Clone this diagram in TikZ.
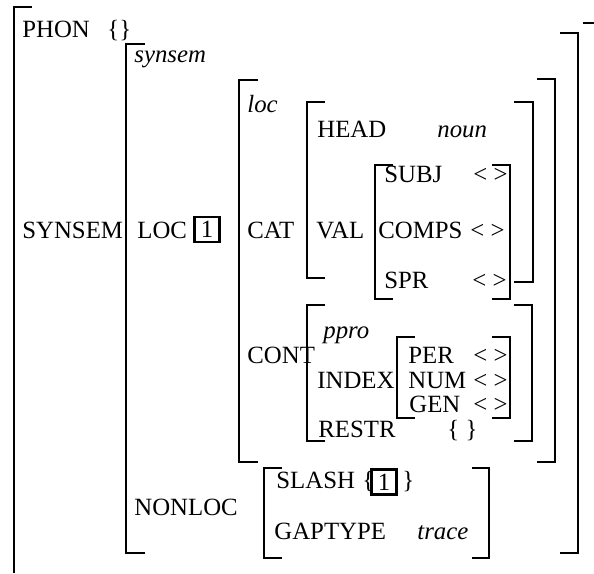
\documentclass[tikz,border=0pt]{standalone}
\usepackage{fontspec}
\setmainfont{Liberation Serif}

\begin{document}
\begin{tikzpicture}[x=0.5pt,y=-0.5pt,
  txt/.style={anchor=base west, inner sep=0pt, font=\fontsize{12.4}{15}\selectfont},
  tagbox/.style={draw, line width=1.1pt, minimum size=12.5pt, inner sep=0pt, font=\fontsize{12.4}{15}\selectfont},
  brk/.style={line width=1pt}]
\useasboundingbox (0,0) rectangle (594,573);

\node[txt] (phon) at (22,37) {PHON};
\node[txt] (phonval) at (107,37) {\{\}};
\node[txt] (synsemtype) at (134,62) {\textit{synsem}};
\node[txt] (synsem) at (22,238) {SYNSEM};
\node[txt] (loc) at (137,238) {LOC};
\node[tagbox] (loctag) at (207,229.5) {1};
\node[txt] (loctype) at (247,112) {\textit{loc}};
\node[txt] (cat) at (247,238) {CAT};
\node[txt] (head) at (317,137) {HEAD};
\node[txt] (noun) at (437,137) {\textit{noun}};
\node[txt] (val) at (316,238) {VAL};
\node[txt] (subj) at (384,182) {SUBJ};
\node[txt] (subjval) at (473,182) {< >};
\node[txt] (comps) at (378,238) {COMPS};
\node[txt] (compsval) at (470,238) {< >};
\node[txt] (spr) at (384,288) {SPR};
\node[txt] (sprval) at (472,288) {< >};
\node[txt] (cont) at (247,363) {CONT};
\node[txt] (ppro) at (323,338) {\textit{ppro}};
\node[txt] (index) at (317,388) {INDEX};
\node[txt] (per) at (408,363) {PER};
\node[txt] (perval) at (473,363) {< >};
\node[txt] (num) at (408,388) {NUM};
\node[txt] (numval) at (473,388) {< >};
\node[txt] (gen) at (409,412) {GEN};
\node[txt] (genval) at (473,412) {< >};
\node[txt] (restr) at (318,437) {RESTR};
\node[txt] (restrval) at (447,437) {\{ \}};
\node[txt] (nonloc) at (134,515) {NONLOC};
\node[txt] (slash) at (276,488) {SLASH};
\node[txt] (slashl) at (362,488) {\{};
\node[tagbox] (slashtag) at (384,482) {1};
\node[txt] (slashr) at (402,488) {\}};
\node[txt] (gaptype) at (274,539) {GAPTYPE};
\node[txt] (trace) at (417,539) {\textit{trace}};

\draw[brk] (32,7) -- (14,7) -- (14,573); % outer left
\draw[brk] (583,23) -- (594,23); % outer right
\draw[brk] (145,44) -- (126,44) -- (126,553) -- (145,553); % synsem left
\draw[brk] (560,33) -- (578,33) -- (578,553) -- (560,553); % synsem right
\draw[brk] (258,80) -- (239,80) -- (239,462) -- (258,462); % loc left
\draw[brk] (537,79) -- (555,79) -- (555,462) -- (537,462); % loc right
\draw[brk] (325,102) -- (307,102) -- (307,278) -- (325,278); % cat left
\draw[brk] (514,102) -- (533,102) -- (533,282) -- (514,282); % cat right
\draw[brk] (393,165) -- (375,165) -- (375,299) -- (393,299); % val left
\draw[brk] (492,165) -- (510,165) -- (510,299) -- (492,299); % val right
\draw[brk] (325,305) -- (307,305) -- (307,441) -- (325,441); % cont left
\draw[brk] (514,305) -- (532,305) -- (532,441) -- (514,441); % cont right
\draw[brk] (415,337) -- (397,337) -- (397,418) -- (415,418); % index left
\draw[brk] (492,337) -- (510,337) -- (510,418) -- (492,418); % index right
\draw[brk] (282,468) -- (264,468) -- (264,558) -- (282,558); % nonloc left
\draw[brk] (472,468) -- (489,468) -- (489,558) -- (472,558); % nonloc right

\end{tikzpicture}
\end{document}
